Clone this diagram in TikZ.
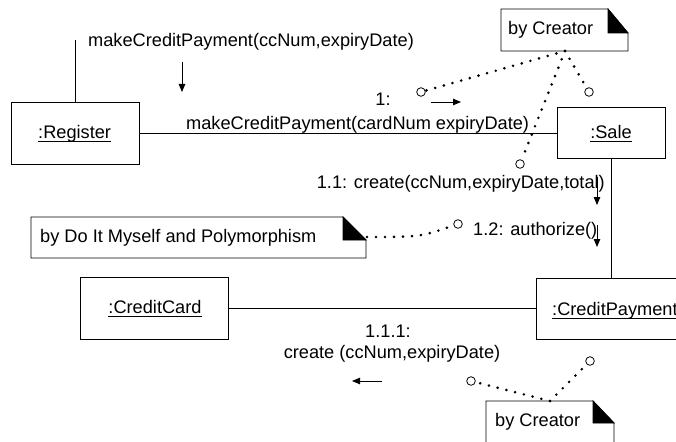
\documentclass[tikz,border=0pt]{standalone}
\usepackage{fontspec}
\setmainfont{Liberation Sans}
\usetikzlibrary{arrows.meta}
\newlength\objulw
\newcommand\objname[1]{\settowidth{\objulw}{#1}\rlap{\rule[-4.3pt]{\objulw}{0.9pt}}#1}
\begin{document}
\begin{tikzpicture}[x=1pt,y=-1pt,
  font=\fontsize{18.2}{21}\selectfont,
  objbox/.style={draw, line width=0.8pt, inner sep=0pt},
  txt/.style={inner sep=0pt},
  link/.style={line width=0.8pt},
  msg/.style={line width=0.8pt, -{Triangle[length=8pt,width=6.5pt]}},
  notebody/.style={draw, line width=0.8pt, fill=white},
  noteear/.style={fill=black, draw=black, line width=0.8pt},
  dotline/.style={line width=2.9pt, line cap=round, dash pattern=on 0pt off 9pt},
  endcirc/.style={draw, circle, line width=0.8pt, minimum size=8.6pt, inner sep=0pt, fill=white}]
\useasboundingbox (0,0) rectangle (676,441);
\clip (0,0) rectangle (676,441);
\fill[white] (0,0) rectangle (676,441);

% object boxes
\node[objbox, minimum width=128pt, minimum height=62pt] (reg) at (75,133) {};
\node[objbox, minimum width=108pt, minimum height=51pt] (sale) at (611,132.5) {};
\node[objbox, minimum width=148pt, minimum height=62pt] (cc) at (154,308) {};
\node[objbox, minimum width=156pt, minimum height=61pt] (cp) at (614,308.5) {};

\node[txt, anchor=base west] (treg) at (38,138) {\objname{:Register}};
\node[txt, anchor=base] (tsale) at (611,138) {\objname{:Sale}};
\node[txt, anchor=base] (tcc) at (155,313) {\objname{:CreditCard}};
\node[txt, anchor=base west] (tcp) at (552,315) {\objname{:CreditPayment}};

% links
\coordinate (regtop) at (75,40);
\draw[link] (reg.north) -- (regtop);
\draw[link] (reg.east) -- (reg.east -| sale.west);
\draw[link] (sale.south) -- (sale.south |- cp.north);
\draw[link] (cc.east) -- (cc.east -| cp.west);

% messages
\node[txt, anchor=base west] (m0) at (88,47) {makeCreditPayment(ccNum,expiryDate)};
\coordinate (a0s) at (182,62); \coordinate (a0e) at (182,92);
\draw[msg] (a0s) -- (a0e);

\node[txt, anchor=base] (m1a) at (383,106) {1:};
\node[txt, anchor=base west] (m1b) at (186,129) {makeCreditPayment(cardNum expiryDate)};
\coordinate (a1s) at (431,102); \coordinate (a1e) at (461,102);
\draw[msg] (a1s) -- (a1e);

\node[txt, anchor=base east] (m11) at (605,188) {1.1: create(ccNum,expiryDate,total)};
\coordinate (a11s) at (597,177); \coordinate (a11e) at (597,205);
\draw[msg] (a11s) -- (a11e);

\node[txt, anchor=base west] (m12) at (473,235) {1.2: authorize()};
\coordinate (a12s) at (597,225); \coordinate (a12e) at (597,247);
\draw[msg] (a12s) -- (a12e);

\node[txt, anchor=base] (m111a) at (388,337) {1.1.1:};
\node[txt, anchor=base] (m111b) at (392,358) {create (ccNum,expiryDate)};
\coordinate (a111s) at (382,381); \coordinate (a111e) at (352,381);
\draw[msg] (a111s) -- (a111e);

% notes
\draw[notebody] (501,9) -- (608,9) -- (628,33) -- (628,51) -- (501,51) -- cycle;
\draw[noteear] (608,9) -- (608,33) -- (628,33) -- cycle;
\node[txt, anchor=base west] (n1) at (508,34.5) {by Creator};

\draw[notebody] (31,217) -- (343,217) -- (366,240) -- (366,258) -- (31,258) -- cycle;
\draw[noteear] (343,217) -- (343,240) -- (366,240) -- cycle;
\node[txt, anchor=base west] (n2) at (40,242) {by Do It Myself and Polymorphism};

\draw[notebody] (486,401) -- (593,401) -- (614,423) -- (614,450) -- (486,450) -- cycle;
\draw[noteear] (593,401) -- (593,423) -- (614,423) -- cycle;
\node[txt, anchor=base west] (n3) at (495,426.5) {by Creator};

% note anchors and end circles
\coordinate (n1p) at (565,51);
\coordinate (n2p) at (367,237);
\coordinate (n3p) at (550,401);
\node[endcirc] (c1) at (421,92) {};
\node[endcirc] (c2) at (589,92) {};
\node[endcirc] (c3) at (520,164) {};
\node[endcirc] (c4) at (458,224) {};
\node[endcirc] (c5) at (471,381) {};
\node[endcirc] (c6) at (590,361) {};

\draw[dotline] (n1p) -- (c1);
\draw[dotline] (n1p) -- (c2);
\draw[dotline] (n1p) -- (c3);
\draw[dotline] (n2p) .. controls (420,237) .. (c4);
\draw[dotline] (n3p) -- (c5);
\draw[dotline] (n3p) -- (c6);
\end{tikzpicture}
\end{document}
